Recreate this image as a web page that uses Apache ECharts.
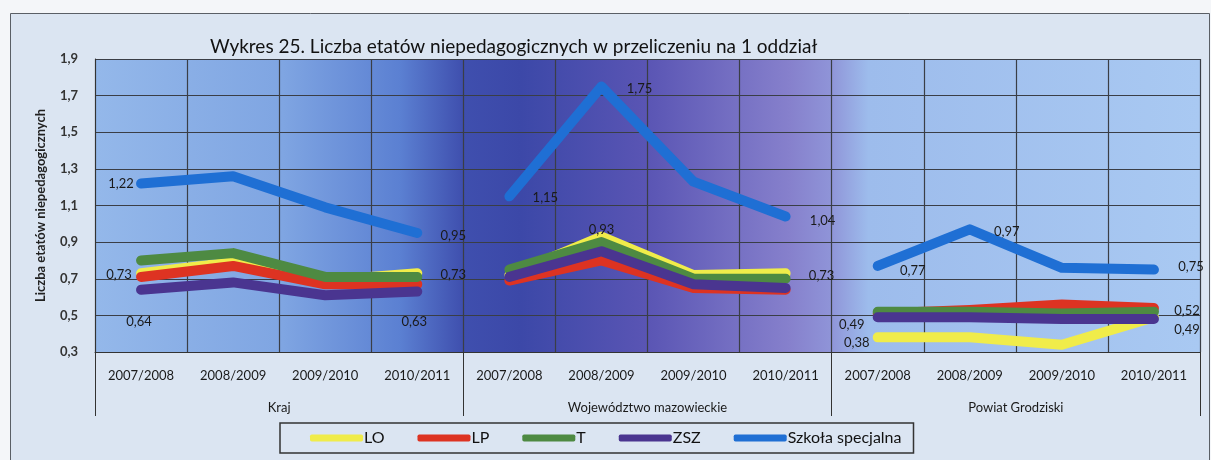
<!DOCTYPE html>
<html>
<head>
<meta charset="utf-8">
<script src="https://cdn.jsdelivr.net/npm/echarts@6/dist/echarts.min.js"></script>
<style>
html,body{margin:0;padding:0;background:#f4f6f9;}
#chart{width:1211px;height:460px;}
</style>
</head>
<body>
<div id="chart"></div>
<script>
// ---- data ----
const years = ['2007/2008', '2008/2009', '2009/2010', '2010/2011'];
const groups = ['Kraj', 'Województwo mazowieckie', 'Powiat Grodziski'];
const yTicks = [0.3, 0.5, 0.7, 0.9, 1.1, 1.3, 1.5, 1.7, 1.9];
const seriesNames = ['LO', 'LP', 'T', 'ZSZ', 'Szkoła specjalna'];
// values per series: Kraj (4), Województwo (4), Powiat (4)
const LO  = [0.73, 0.79, 0.69, 0.73,   0.72, 0.93, 0.72, 0.73,   0.38, 0.38, 0.34, 0.49];
const LP  = [0.71, 0.77, 0.67, 0.67,   0.69, 0.80, 0.65, 0.64,   0.51, 0.53, 0.56, 0.54];
const T   = [0.80, 0.84, 0.71, 0.71,   0.75, 0.90, 0.70, 0.70,   0.52, 0.52, 0.51, 0.52];
const ZSZ = [0.64, 0.68, 0.61, 0.63,   0.71, 0.85, 0.67, 0.65,   0.49, 0.49, 0.48, 0.48];
const SS  = [1.22, 1.26, 1.09, 0.95,   1.15, 1.75, 1.23, 1.04,   0.77, 0.97, 0.76, 0.75];
const values = [LO, LP, T, ZSZ, SS];

// which points carry a value label: [series index, point index, dx, dy]
const labelSpecs = [
  [4, 0, -20, 0], [4, 3, 36, 3], [0, 0, -22, 2], [0, 3, 36, 2], [3, 0, -2, 32], [3, 3, -3, 30],
  [4, 4, 36, 1], [4, 5, 38, 2], [4, 7, 37, 4], [0, 5, 0, -7], [0, 7, 36, 3],
  [4, 8, 35, 5], [4, 9, 37, 3], [4, 11, 37, -3], [2, 11, 33, -1], [3, 8, -26, 8], [0, 8, -21, 5], [0, 11, 33, 13]
];

const colors = ['#f0ec4a', '#dd3322', '#4e8a42', '#4a3590', '#1f6fd4'];
const FONT = 'Lato, "Open Sans", sans-serif';

const categories = [];
groups.forEach(() => years.forEach(y => categories.push(y)));

const fmt = v => v.toFixed(2).replace('.', ',');

const series = [];
seriesNames.forEach((name, si) => {
  groups.forEach((g, gi) => {
    const data = categories.map((c, ci) => {
      if (Math.floor(ci / 4) !== gi) return '-';
      const v = values[si][ci];
      const spec = labelSpecs.find(s => s[0] === si && s[1] === ci);
      if (!spec) return v;
      return {
        value: v,
        label: {
          show: true, position: 'inside', offset: [spec[2], spec[3]],
          formatter: () => fmt(v), color: '#1a1a1a', fontSize: 13, fontFamily: FONT
        }
      };
    });
    series.push({
      name: name, type: 'line', xAxisIndex: 0, data: data,
      symbol: 'circle', symbolSize: 0.1, showSymbol: true,
      color: colors[si],
      lineStyle: { width: 10, color: colors[si], cap: 'round', join: 'round' },
      label: { show: false },
      emphasis: { disabled: true },
      silent: true, animation: false, z: 2 + si
    });
  });
});

const chart = echarts.init(document.getElementById('chart'));
chart.setOption({
  animation: false,
  backgroundColor: '#f4f6f9',
  textStyle: { fontFamily: FONT },
  graphic: [{
    type: 'rect', left: 10, top: 13, z: -10,
    shape: { width: 1199, height: 460 },
    style: { fill: '#dbe5f2', stroke: '#5a5f66', lineWidth: 1 }
  }],
  title: {
    text: 'Wykres 25. Liczba etatów niepedagogicznych w przeliczeniu na 1 oddział',
    left: 205, top: 32,
    textStyle: { fontFamily: FONT, fontSize: 19, fontWeight: 'normal', color: '#111' }
  },
  legend: {
    data: seriesNames,
    left: 280, top: 423,
    padding: [7, 12, 7, 30],
    itemGap: 33, itemWidth: 53, itemHeight: 7,
    icon: 'roundRect',
    borderColor: '#333', borderWidth: 1.5, borderRadius: 0,
    textStyle: { fontFamily: FONT, fontSize: 16, color: '#111', padding: [0, 0, 0, -4] },
    selectedMode: false
  },
  grid: {
    left: 95, right: 11, top: 59, bottom: 108, show: true, borderWidth: 0,
    backgroundColor: {
      type: 'linear', x: 0, y: 0, x2: 1, y2: 0,
      colorStops: [
        { offset: 0, color: '#94b8ea' },
        { offset: 0.17, color: '#7fa5e2' },
        { offset: 0.276, color: '#5b80d2' },
        { offset: 0.333, color: '#3f4fae' },
        { offset: 0.385, color: '#3c48a8' },
        { offset: 0.5, color: '#5a55b4' },
        { offset: 0.628, color: '#8680cc' },
        { offset: 0.666, color: '#8f94d8' },
        { offset: 0.70, color: '#9dbcec' },
        { offset: 1, color: '#a9c9f2' }
      ]
    }
  },
  xAxis: [{
    type: 'category', data: categories, position: 'bottom', boundaryGap: true,
    axisLine: { show: true, lineStyle: { color: '#333', width: 1 } },
    axisTick: { show: false },
    axisLabel: { interval: 0, margin: 17, fontSize: 13, color: '#1a1a1a', fontFamily: FONT },
    splitLine: { show: true, interval: 0, lineStyle: { color: '#3a3e46', width: 1.2 } }
  }, {
    type: 'category', data: groups, position: 'bottom', boundaryGap: true,
    axisLine: { show: false },
    axisTick: { show: true, length: 64, interval: 0, lineStyle: { color: '#333', width: 1 } },
    axisLabel: { interval: 0, margin: 49, fontSize: 13, color: '#1a1a1a', fontFamily: FONT },
    splitLine: { show: false }
  }],
  yAxis: {
    type: 'value', min: yTicks[0], max: yTicks[yTicks.length - 1], interval: 0.2,
    name: 'Liczba etatów niepedagogicznych', nameLocation: 'middle', nameGap: 48,
    nameTextStyle: { fontFamily: FONT, fontSize: 13, fontWeight: 'bold', color: '#222' },
    axisLine: { show: true, lineStyle: { color: '#333' } },
    axisTick: { show: false },
    axisLabel: { margin: 17, fontSize: 13, fontWeight: 'bold', color: '#333', fontFamily: FONT,
      formatter: v => v.toFixed(1).replace('.', ',') },
    splitLine: { show: true, lineStyle: { color: '#3a3e46', width: 1.2 } }
  },
  series: series
});
</script>
</body>
</html>
